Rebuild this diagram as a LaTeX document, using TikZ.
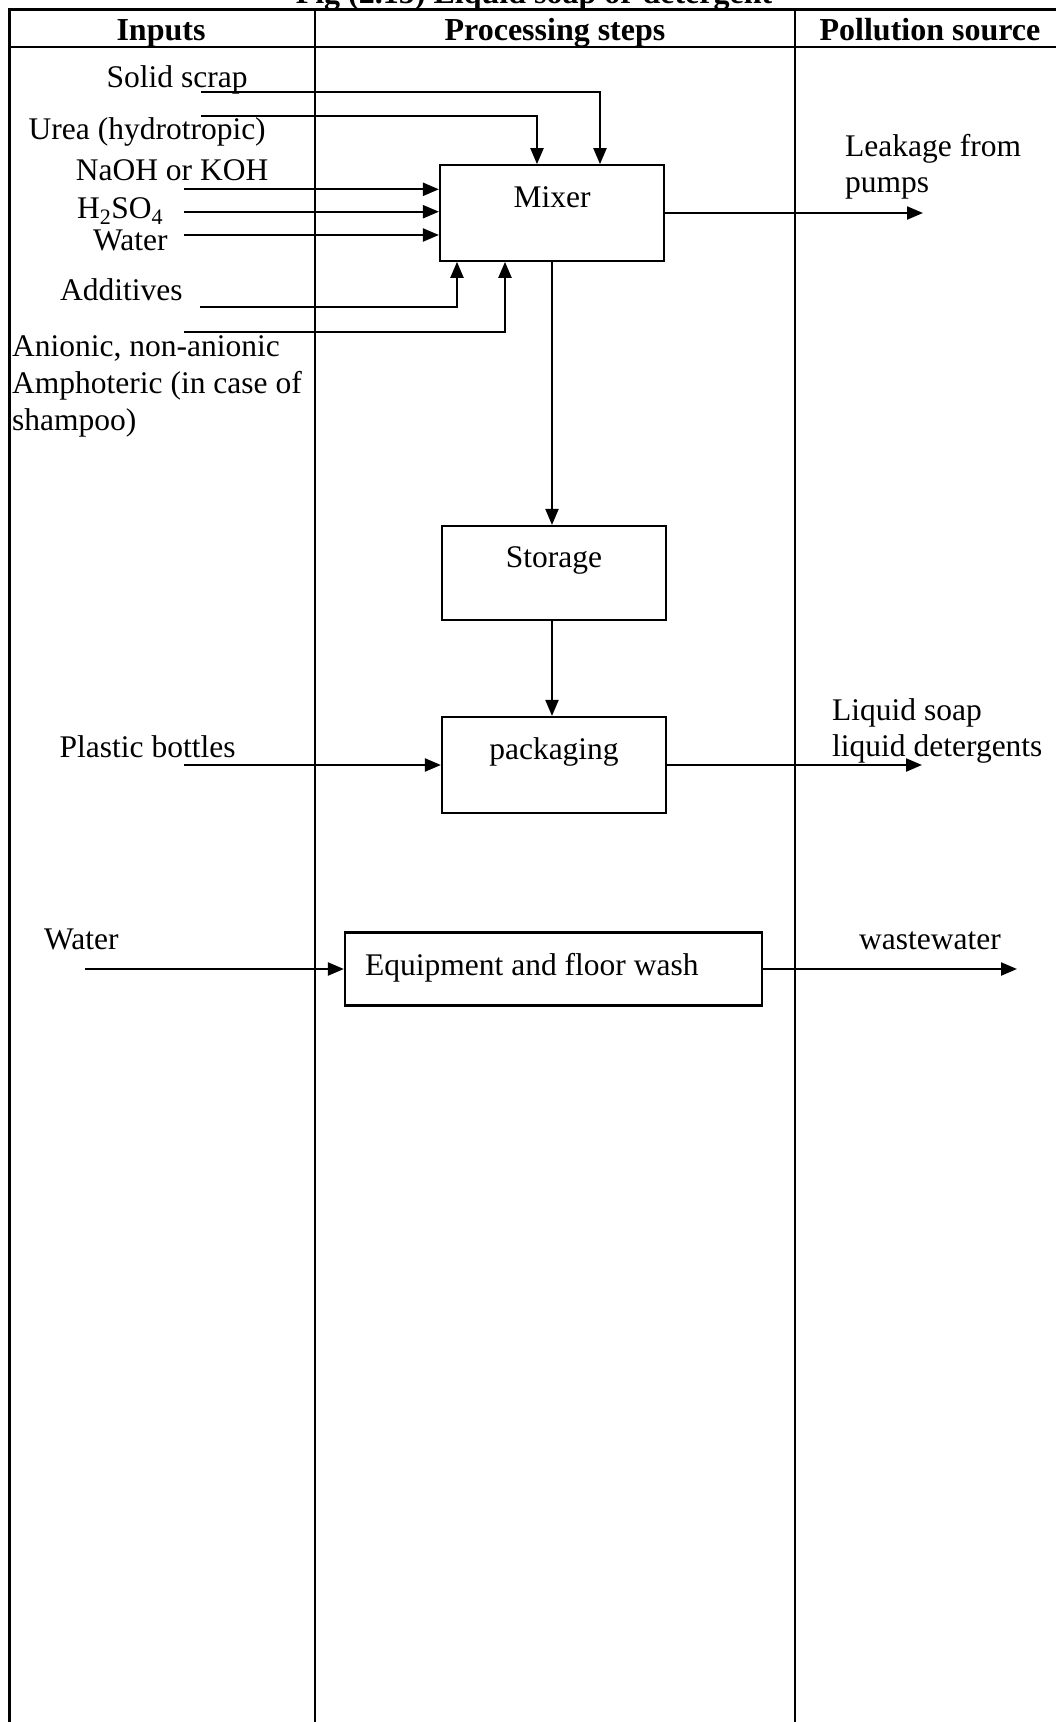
\documentclass[tikz,border=0pt]{standalone}
\usepackage{fontspec}
\setmainfont{Liberation Serif}
\usetikzlibrary{arrows.meta,calc}
\begin{document}
\begin{tikzpicture}[x=1pt,y=-1pt,
  txt/.style={inner sep=0pt,font=\fontsize{31.5}{36.8}\selectfont},
  head/.style={inner sep=0pt,font=\fontsize{32}{36}\selectfont\bfseries,anchor=base},
  rule/.style={line width=2.3pt},
  procbox/.style={draw,line width=2.2pt,minimum width=224pt,inner sep=0pt},
  flow/.style={line width=2.2pt,-{Triangle[length=16pt,width=13pt]}}]
\useasboundingbox (0,0) rectangle (1056,1722);
\clip (0,0) rectangle (1056,1722);

% title (cut at the top edge)
\node[head] (title) at (534,3) {Fig (2.15) Liquid soap or detergent};

% table frame
\draw[rule] (1070,9.5) -- (9.5,9.5) -- (9.5,1725);
\draw[rule] (9.5,47) -- (1070,47);
\draw[rule] (315,9.5) -- (315,1725);
\draw[rule] (795,9.5) -- (795,1725);

% column headers
\node[head] (h1) at (161,40) {Inputs};
\node[head] (h2) at (555,40) {Processing steps};
\node[head] (h3) at (930,40) {Pollution source};

% process boxes
\node[procbox,minimum height=95.5pt] (mixer) at (552,213) {};
\node[procbox,minimum height=94pt] (storage) at (554,573) {};
\node[procbox,minimum height=96pt] (pack) at (554,765) {};
\node[procbox,minimum width=417pt,minimum height=73pt] (wash) at (553.5,969) {};

\node[txt,anchor=base] (mixertxt) at (552,207) {Mixer};
\node[txt,anchor=base] (storagetxt) at (554,567.5) {Storage};
\node[txt,anchor=base] (packtxt) at (554,759.5) {packaging};
\node[txt,anchor=base west] (washtxt) at (365,975.5) {Equipment and floor wash};

% input labels
\node[txt,anchor=base west] (l1) at (106.5,87) {Solid scrap};
\node[txt,anchor=base west] (l2) at (28.5,139.5) {Urea (hydrotropic)};
\node[txt,anchor=base west] (l3) at (75.7,180.5) {NaOH or KOH};
\node[txt,anchor=base west] (l4) at (77,218.5) {H\textsubscript{2}SO\textsubscript{4}};
\node[txt,anchor=base west] (l5) at (93,250.5) {Water};
\node[txt,anchor=base west] (l6) at (60,300) {Additives};
\node[txt,anchor=north west,align=left] (l7) at (12,335.5)
  {Anionic, non-anionic\\Amphoteric (in case of\\shampoo)};
\node[txt,anchor=base west] (l8) at (59.5,757) {Plastic bottles};
\node[txt,anchor=base west] (l9) at (44,949) {Water};

% output labels
\node[txt,anchor=base west] (o1) at (845,156) {Leakage from};
\node[txt,anchor=base west] (o1b) at (845,192.5) {pumps};
\node[txt,anchor=base west] (o2) at (832,720.5) {Liquid soap};
\node[txt,anchor=base west] (o2b) at (832,756.5) {liquid detergents};
\node[txt,anchor=base west] (o3) at (859,949.5) {wastewater};

% free ends of the connectors
\coordinate (s1) at (201,92);
\coordinate (s2) at (201,115.7);
\coordinate (s3) at (184,189.3);
\coordinate (s4) at (184,211.7);
\coordinate (s5) at (184,235);
\coordinate (s6) at (200,307.3);
\coordinate (s7) at (184,331.7);
\coordinate (s8) at (184,765);
\coordinate (s9) at (85,969);
\coordinate (e1) at (923,213);
\coordinate (e2) at (922,765);
\coordinate (e3) at (1017,969);

% connectors into the mixer
\draw[flow] (s1) -| ([xshift=48pt]mixer.north);
\draw[flow] (s2) -| ([xshift=-15pt]mixer.north);
\draw[flow] (s3) -- (s3 -| mixer.west);
\draw[flow] (s4) -- (s4 -| mixer.west);
\draw[flow] (s5) -- (s5 -| mixer.west);
\draw[flow] (s6) -| ([xshift=-95pt]mixer.south);
\draw[flow] (s7) -| ([xshift=-47pt]mixer.south);

% main line
\draw[flow] (mixer.south) -- (mixer.south |- storage.north);
\draw[flow] (storage.south -| mixer.south) -- (mixer.south |- pack.north);
\draw[flow] (s8) -- (pack.west);
\draw[flow] (s9) -- (wash.west);

% outputs
\draw[flow] (mixer.east) -- (e1);
\draw[flow] (pack.east) -- (e2);
\draw[flow] (wash.east) -- (e3);
\end{tikzpicture}
\end{document}
